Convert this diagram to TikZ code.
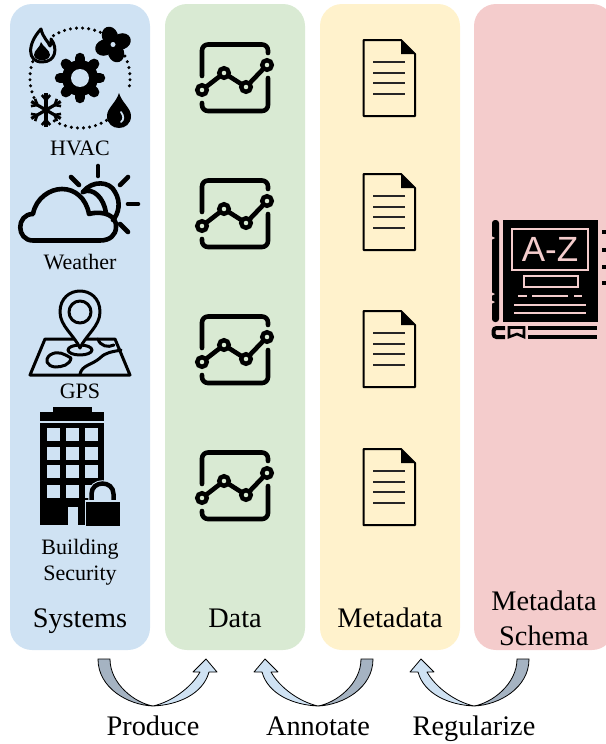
\documentclass[tikz,border=0pt]{standalone}
\usepackage{fontspec}
\setmainfont{Liberation Serif}
\newfontfamily\iconfont{Liberation Sans}
\definecolor{sysblue}{HTML}{CFE2F3}
\definecolor{datagreen}{HTML}{D9EAD3}
\definecolor{metayellow}{HTML}{FFF2CC}
\definecolor{schemapink}{HTML}{F4CCCC}
\definecolor{arrowdark}{HTML}{A5B3C2}
\tikzset{
  panel/.style={minimum width=140pt,minimum height=646pt,rounded corners=22pt,inner sep=0pt},
  bigtext/.style={font=\fontsize{28.3}{35}\selectfont,align=center,inner sep=0pt,anchor=base},
  smalltext/.style={font=\fontsize{22}{26}\selectfont,align=center,inner sep=0pt,anchor=base},
  iconline/.style={line width=4.6pt,line cap=round,line join=round},
  thinline/.style={line width=3pt,line cap=round,line join=round},
  darkarrow/.style={draw=black,line width=.8pt,fill=arrowdark},
  lightarrow/.style={draw=black,line width=.8pt,fill=sysblue},
}
\begin{document}
\begin{tikzpicture}[x=1pt,y=-1pt]
  \useasboundingbox (0,0) rectangle (605,744);
  \node[panel,fill=sysblue]    (Sy) at (80,327)  {};
  \node[panel,fill=datagreen]  (Da) at (235,327) {};
  \node[panel,fill=metayellow] (Me) at (390,327) {};
  \node[panel,fill=schemapink] (Sc) at (544,327) {};
  \node[bigtext] (SyL) at (80,627)  {Systems};
  \node[bigtext] (DaL) at (235,627) {Data};
  \node[bigtext] (MeL) at (390,627) {Metadata};
  \node[bigtext] (ScL) at (544,645) {Metadata\\Schema};
  \node[smalltext] (Hv) at (80,155) {HVAC};
  \node[smalltext] (We) at (80,269) {Weather};
  \node[smalltext] (Gp) at (80,398) {GPS};
  \node[smalltext] (Bu) at (80,580) {Building\\Security};
  \node[bigtext] (Pr) at (153,735) {Produce};
  \node[bigtext] (An) at (318,735) {Annotate};
  \node[bigtext] (Re) at (474,735) {Regularize};
  % hvac
  \foreach \a in {-122,-115,...,-60,-33,-26,...,15,58,65,...,125,150,157,...,210}
    \fill (80,78) ++(\a:50) circle (1.7);
  \fill (80,78) circle (18);
  \foreach \a in {0,45,...,315}
    \draw[line width=10.5pt,line cap=round] (80,78) -- ++(\a:20);
  \fill[sysblue] (80,78) circle (9);
  \draw[thinline,fill=sysblue] (41,29) .. controls (43,38) and (48,41) .. (50,46) .. controls (51,44) and (52,42) .. (51,39) .. controls (58,48) and (56,62) .. (42,62) .. controls (27,62) and (27,44) .. (41,29) -- cycle;
  \fill (41,42) .. controls (43,47) and (50,50) .. (50,55) .. controls (49,62) and (35,62) .. (34,55) .. controls (34,50) and (40,48) .. (41,42) -- cycle;
  \foreach \a in {20,110,200,290}
    \fill[rotate around={\a:(113,44.5)}] (122,44.5) ellipse (9.5 and 8);
  \fill[sysblue] (113,44.5) circle (2.5);
  \foreach \a in {0,60,120,180,240,300} {
    \draw[line width=3.2pt] (46,110) -- ++(\a+30:17);
    \draw[line width=2.6pt] (46,110) ++(\a+30:10) -- ++(\a+70:6.5);
    \draw[line width=2.6pt] (46,110) ++(\a+30:10) -- ++(\a-10:6.5);
  }
  \fill (119,93) .. controls (122,103) and (131,108) .. (131,116) .. controls (131,132) and (107,132) .. (107,116) .. controls (107,108) and (116,103) .. (119,93) -- cycle;
  \draw[line width=1.8pt,sysblue,line cap=round] (121,112) .. controls (124,116) and (124,120) .. (121,122);
  % weather
  \draw[iconline] (33,240.5) .. controls (16,240.5) and (16,214) .. (33,214) .. controls (36,198) and (50,189) .. (62,189) .. controls (75,189) and (86,198) .. (89,214) .. controls (104,210) and (117,216) .. (116,227) .. controls (116,235) and (110,240.5) .. (100,240.5) -- cycle;
  \draw[iconline] (83,192) .. controls (93,187) and (104,198) .. (106,213);
  \draw[iconline] (83,192) .. controls (92,180) and (110,181) .. (115,192) .. controls (121,202) and (119,213) .. (113,220);
  \draw[iconline] (98,166) -- (98,176);
  \draw[iconline] (128,177) -- (120,185);
  \draw[iconline] (128,204) -- (138,204);
  \draw[iconline] (120,224) -- (128,232);
  \draw[iconline] (71,177) -- (79,185);
  % gps
  \draw[thinline] (45,339) -- (30,375) -- (130,375) -- (115,339) -- cycle;
  \draw[thinline] (80,350) ellipse (12 and 5);
  \draw[thinline,fill=sysblue] (80,348) .. controls (74,335) and (60,326) .. (60,312) .. controls (60,284) and (100,284) .. (100,312) .. controls (100,326) and (86,335) .. (80,348) -- cycle;
  \draw[thinline] (80,312) circle (11);
  \draw[thinline] (50,355) .. controls (58,350) and (64,354) .. (71,358) .. controls (70,365) and (62,367) .. (55,367) .. controls (47,366) and (44,360) .. (50,355) -- cycle;
  \draw[thinline] (98,339) .. controls (100,346) and (108,348) .. (114,345);
  \draw[thinline] (80,374) .. controls (82,365) and (92,365) .. (100,358) .. controls (106,352) and (112,352) .. (121,350);
  % building
  \fill (53,407) rectangle (92,412);
  \fill (40,412) rectangle (104,421);
  \fill (40,423) rectangle (104,525);
  \foreach \wx in {47,66,85}
    \foreach \wy in {428,447,465,485}
      \fill[sysblue] (\wx,\wy) rectangle ++(13,13);
  \fill[sysblue] (68,507) rectangle (78,525);
  \draw[sysblue,line width=6.5pt] (91.5,502) -- (91.5,494) .. controls (91.5,480) and (113.5,480) .. (113.5,494) -- (113.5,502);
  \fill[sysblue] (91.5,502) -- (91.5,494) .. controls (91.5,480) and (113.5,480) .. (113.5,494) -- (113.5,502) -- cycle;
  \draw[line width=4.5pt] (91.5,502) -- (91.5,494) .. controls (91.5,480) and (113.5,480) .. (113.5,494) -- (113.5,502);
  \draw[sysblue,line width=3pt] (86,501.5) rectangle (120,526);
  \fill (86,501.5) rectangle (120,526);
  % charts
  \foreach \oy in {0,136,272,408} {
    \begin{scope}[shift={(0,\oy)}]
      \draw[iconline,rounded corners=6pt] (202,76) -- (202,44.5) -- (268,44.5) -- (268,53);
      \draw[iconline,rounded corners=6pt] (202,103) -- (202,111) -- (268,111) -- (268,78);
      \draw[iconline] (202,90) -- (224,73) -- (246,87) -- (267,65);
      \foreach \px/\py in {202/90,224/73,246/87,267/65}
        \draw[line width=4.4pt,fill=datagreen] (\px,\py) circle (4.8);
    \end{scope}
  }
  % documents
  \foreach \oy in {0,134,271,409} {
    \begin{scope}[shift={(0,\oy)}]
      \draw[line width=2pt,line join=round] (363.5,40) -- (401,40) -- (415,54) -- (415,116) -- (363.5,116) -- cycle;
      \fill (401,40) -- (415,54) -- (401,54) -- cycle;
      \foreach \ly in {62,73,83,94}
        \draw[line width=1.3pt,black!85] (373,\ly) -- (405,\ly);
    \end{scope}
  }
  % book
  \fill[rounded corners=3pt] (492,220) -- (499,220) -- (499,322) -- (492,322) -- cycle;
  \fill (503,220) rectangle (598,322);
  \fill[schemapink] (491,240) -- (495,238) -- (491,236) -- cycle;
  \fill[schemapink] (491,296) -- (495,294) -- (491,292) -- cycle;
  \fill[schemapink] (491,304) -- (495,302) -- (491,300) -- cycle;
  \draw[schemapink,line width=2pt] (512,229) rectangle (588,270);
  \node[text=schemapink,font=\fontsize{35}{35}\selectfont\iconfont,inner sep=0pt] (AZ) at (550,249) {A-Z};
  \draw[schemapink,line width=2pt] (524,276) rectangle (578,287);
  \foreach \xa/\xb in {518/527,532/568,574/582}
    \draw[schemapink,line width=1.8pt] (\xa,296) -- (\xb,296);
  \draw[schemapink,line width=2pt] (514,304.5) -- (586,304.5);
  \draw[schemapink,line width=2pt] (514,313) -- (586,313);
  \draw[line width=4pt,rounded corners=3pt] (505,328) -- (493.5,328) -- (493.5,337) -- (505,337);
  \draw[line width=4pt] (528,328) -- (597,328);
  \draw[line width=4pt] (528,337) -- (597,337);
  \draw[line width=2.6pt] (509,327.5) -- (524,327.5) -- (524,337) -- (517,334) -- (509,337) -- cycle;
  \foreach \ny in {232,250,267,283}
    \fill (602,\ny-2) rectangle (607,\ny+2);
  % arrows
  \foreach \cx/\dir in {153/1,318/-1,474/-1} {
    \begin{scope}[shift={(\cx,706)},xscale=\dir]
      \draw[darkarrow] (-55,-47) -- (-43,-47) .. controls (-43,-22) and (-18,-3) .. (0,0) .. controls (-25,-1) and (-55,-18) .. (-55,-47) -- cycle;
      \draw[lightarrow,line join=round] (0,0) .. controls (18,-4) and (38,-18) .. (47,-34) -- (40,-34) -- (53,-47) -- (64,-34) -- (56,-34) .. controls (50,-12) and (25,-1) .. (0,0) -- cycle;
    \end{scope}
  }
\end{tikzpicture}
\end{document}
